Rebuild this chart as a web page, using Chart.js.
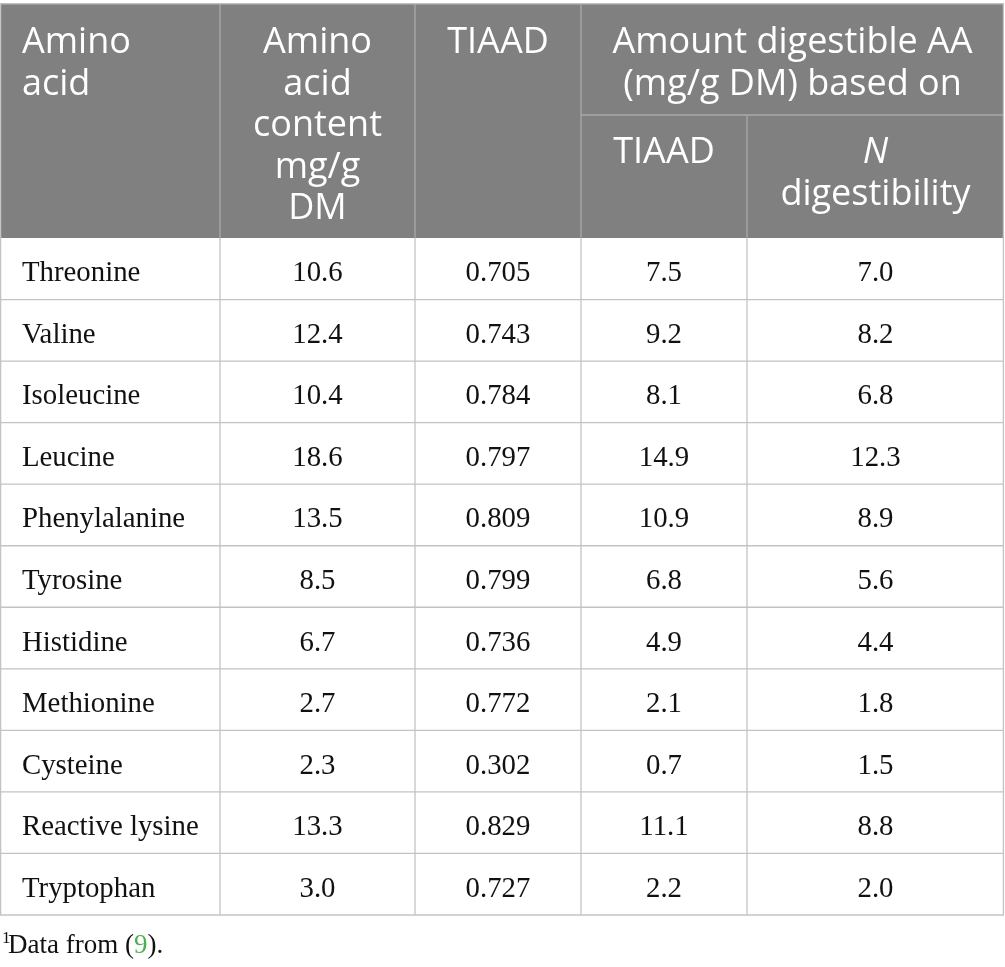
<!DOCTYPE html>
<html>
<head>
<meta charset="utf-8">
<script src="https://cdn.jsdelivr.net/npm/chart.js@4.4.1/dist/chart.umd.min.js"></script>
<style>
html,body{margin:0;padding:0;background:#fff;}
#wrap{width:1005px;height:967px;position:relative;}
</style>
</head>
<body>
<div id="wrap"><canvas id="c"></canvas></div>
<script>
// ---- data ----
const aminoAcids = ['Threonine','Valine','Isoleucine','Leucine','Phenylalanine','Tyrosine','Histidine','Methionine','Cysteine','Reactive lysine','Tryptophan'];
const aaContent = [10.6,12.4,10.4,18.6,13.5,8.5,6.7,2.7,2.3,13.3,3.0];
const tiaad     = [0.705,0.743,0.784,0.797,0.809,0.799,0.736,0.772,0.302,0.829,0.727];
const digTIAAD  = [7.5,9.2,8.1,14.9,10.9,6.8,4.9,2.1,0.7,11.1,2.2];
const digN      = [7.0,8.2,6.8,12.3,8.9,5.6,4.4,1.8,1.5,8.8,2.0];
const decimals  = [1,3,1,1];
const headerMain = [['Amino','acid'],['Amino','acid','content','mg/g','DM'],['TIAAD']];
const headerSpan = ['Amount digestible AA','(mg/g DM) based on'];
const headerSub  = [['TIAAD'],['N','digestibility']];
const footnote = {sup:'1', pre:'Data from (', ref:'9', post:').'};

// ---- layout (positions/styles) ----
const colEdges = [0, 220, 415, 581, 747, 1004];
const L = {headTop:4, subLine:115, firstBase:49, lineStep:41.5, nameX:22, bodyBaseOff:12.5,
  headBg:'#808080', headLine:'#a9a9a9', bodyLine:'#c3c3c3', text:'#111111', refColor:'#4caf50',
  headFont:'36px "Open Sans"', headFontIt:'italic 36px "Open Sans"', bodyFont:'28.8px "Liberation Serif"',
  footFont:'27px "Liberation Serif"', supFont:'17px "Liberation Serif"'};
const colCenter = i => (colEdges[i] + colEdges[i+1]) / 2;

const numCols = [aaContent, tiaad, digTIAAD, digN];
const datasets = numCols.map((arr, k) => ({
  label: 'col' + (k+1),
  data: arr.map((v, i) => ({x: colCenter(k+1), y: aminoAcids[i], v: v.toFixed(decimals[k])})),
  pointRadius: 0, pointHoverRadius: 0
}));
datasets.unshift({label:'names', data: aminoAcids.map(n => ({x: L.nameX, y: n, v: n})), pointRadius:0, pointHoverRadius:0});

const tablePlugin = {
  id: 'table',
  afterDatasetsDraw(chart) {
    const ctx = chart.ctx, xs = chart.scales.x, ys = chart.scales.y, ca = chart.chartArea;
    const X = v => xs.getPixelForValue(v);
    const edgeY = i => ys.getPixelForValue(i - 0.5);
    const top = L.headTop, bot = edgeY(0);
    ctx.save();
    // header background
    ctx.fillStyle = L.headBg;
    ctx.fillRect(X(colEdges[0]), top, X(colEdges[5]) - X(colEdges[0]), bot - top);
    // header lines
    ctx.strokeStyle = L.headLine; ctx.lineWidth = 1.3;
    const line = (x1,y1,x2,y2) => {ctx.beginPath(); ctx.moveTo(x1,y1); ctx.lineTo(x2,y2); ctx.stroke();};
    line(X(colEdges[0]), top, X(colEdges[5]), top);
    [1,2,3].forEach(c => line(X(colEdges[c]), top, X(colEdges[c]), bot));
    line(X(colEdges[3]), L.subLine, X(colEdges[5]), L.subLine);
    line(X(colEdges[4]), L.subLine, X(colEdges[4]), bot);
    // header text
    ctx.fillStyle = '#ffffff'; ctx.font = L.headFont; ctx.textBaseline = 'alphabetic';
    headerMain.forEach((lines, c) => {
      ctx.textAlign = c === 0 ? 'left' : 'center';
      const x = c === 0 ? X(L.nameX) : X(colCenter(c));
      lines.forEach((t, j) => ctx.fillText(t, x, top + L.firstBase + j * L.lineStep));
    });
    ctx.textAlign = 'center';
    headerSpan.forEach((t, j) => ctx.fillText(t, X((colEdges[3] + colEdges[5]) / 2), top + L.firstBase + j * L.lineStep));
    headerSub.forEach((lines, k) => {
      lines.forEach((t, j) => {
        ctx.font = (k === 1 && j === 0) ? L.headFontIt : L.headFont;
        ctx.fillText(t, X(colCenter(3 + k)), L.subLine + L.firstBase - 1 + j * L.lineStep);
      });
    });
    // body lines
    ctx.strokeStyle = L.bodyLine; ctx.lineWidth = 1.3;
    for (let i = 1; i <= aminoAcids.length; i++) line(X(colEdges[0]), edgeY(i), X(colEdges[5]), edgeY(i));
    colEdges.forEach((e, c) => {
      const xx = c === 0 ? X(e) + 0.6 : (c === 5 ? X(e) - 0.6 : X(e));
      line(xx, c === 0 || c === 5 ? top : bot, xx, edgeY(aminoAcids.length));
    });
    // body text from dataset elements
    ctx.fillStyle = L.text; ctx.font = L.bodyFont;
    chart.data.datasets.forEach((ds, k) => {
      const meta = chart.getDatasetMeta(k);
      ctx.textAlign = k === 0 ? 'left' : 'center';
      meta.data.forEach((el, i) => ctx.fillText(ds.data[i].v, el.x, el.y + L.bodyBaseOff));
    });
    // footnote
    const fy = ca.bottom + 38;
    ctx.textAlign = 'left';
    ctx.font = L.supFont; ctx.fillText(footnote.sup, 2, fy - 10);
    ctx.font = L.footFont;
    let fx = 8;
    ctx.fillText(footnote.pre, fx, fy); fx += ctx.measureText(footnote.pre).width;
    ctx.fillStyle = L.refColor; ctx.fillText(footnote.ref, fx, fy); fx += ctx.measureText(footnote.ref).width;
    ctx.fillStyle = L.text; ctx.fillText(footnote.post, fx, fy);
    ctx.restore();
  }
};

new Chart(document.getElementById('c'), {
  type: 'scatter',
  data: {datasets},
  options: {
    responsive: true, maintainAspectRatio: false, animation: false,
    events: [],
    layout: {padding: {top: 238, bottom: 52, left: 0, right: 0}},
    plugins: {legend: {display: false}, tooltip: {enabled: false}},
    scales: {
      x: {type: 'linear', min: 0, max: 1005, display: false},
      y: {type: 'category', labels: aminoAcids, offset: true, display: false}
    }
  },
  plugins: [tablePlugin]
});
</script>
</body>
</html>
